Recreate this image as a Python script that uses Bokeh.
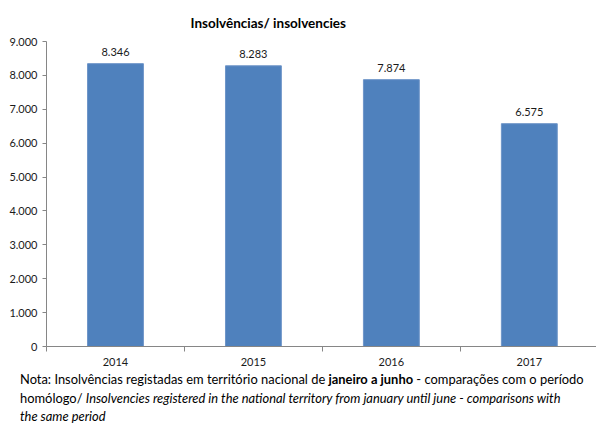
from bokeh.plotting import figure
from bokeh.models import Range1d, FixedTicker, Div, ColumnDataSource
from bokeh.layouts import column
from bokeh.embed import file_html
from bokeh.resources import INLINE
from bokeh.core.properties import value

# data
years = ["2014", "2015", "2016", "2017"]
insolvencies = [8346, 8283, 7874, 6575]
y_ticks = [0, 1000, 2000, 3000, 4000, 5000, 6000, 7000, 8000, 9000]
y_tick_labels = ["0", "1.000", "2.000", "3.000", "4.000", "5.000", "6.000", "7.000", "8.000", "9.000"]

FONT = "Lato"
TXT = "#1a1a1a"

xs = [i + 0.5 for i in range(len(years))]
labels = [f"{v:,}".replace(",", ".") for v in insolvencies]
src = ColumnDataSource(dict(x=xs, top=insolvencies, lab=labels))

p = figure(width=596, height=370, output_backend="svg", toolbar_location=None,
           x_range=Range1d(0, 3.987), y_range=Range1d(0, 9000),
           min_border_left=46, min_border_right=0, min_border_top=41, min_border_bottom=24)
p.outline_line_color = None
p.xgrid.visible = False
p.ygrid.visible = False

p.title.text = "Insolvências/ insolvencies"
p.title.align = "left"
p.title.offset = 144
p.title.standoff = 21
p.title.text_font = FONT
p.title.text_font_size = "13.5px"
p.title.text_font_style = "bold"
p.title.text_color = "#000000"

p.vbar(x="x", top="top", width=0.405, source=src, fill_color="#4F81BD", line_color="#6E95C8")
p.text(x="x", y="top", text="lab", source=src, text_align="center", text_baseline="bottom",
       y_offset=-8, text_font=value(FONT), text_font_size="11px", text_color=TXT)

# axes
p.yaxis.ticker = FixedTicker(ticks=y_ticks)
p.yaxis.major_label_overrides = {t: l for t, l in zip(y_ticks, y_tick_labels)}
p.yaxis.minor_tick_line_color = None
p.yaxis.major_tick_in = 0
p.yaxis.major_tick_out = 4
p.yaxis.axis_line_color = "#868686"
p.yaxis.major_tick_line_color = "#868686"
p.yaxis.major_label_text_font = FONT
p.yaxis.major_label_text_font_size = "11px"
p.yaxis.major_label_text_color = TXT
p.yaxis.major_label_standoff = 5

p.xaxis.ticker = FixedTicker(ticks=xs, minor_ticks=list(range(len(years) + 1)))
p.xaxis.major_label_overrides = {x: y for x, y in zip(xs, years)}
p.xaxis.major_tick_line_color = None
p.xaxis.minor_tick_in = 0
p.xaxis.minor_tick_out = 5
p.xaxis.minor_tick_line_color = "#868686"
p.xaxis.axis_line_color = "#868686"
p.xaxis.major_label_text_font = FONT
p.xaxis.major_label_text_font_size = "11px"
p.xaxis.major_label_text_color = TXT
p.xaxis.major_label_standoff = 5

note = Div(text=("Nota: Insolvências registadas em território nacional de <b>janeiro a junho</b> - "
                 "comparações com o período<br>homólogo/ <i>Insolvencies registered in the national "
                 "territory from january until june - comparisons with</i><br><i>the same period</i>"),
           width=590, margin=(0, 0, 0, 20),
           styles={"font-family": FONT, "font-size": "12.9px", "line-height": "18.5px", "color": "#000"})

layout = column(p, note, spacing=0)
open("out.html", "w").write(file_html(layout, INLINE))
